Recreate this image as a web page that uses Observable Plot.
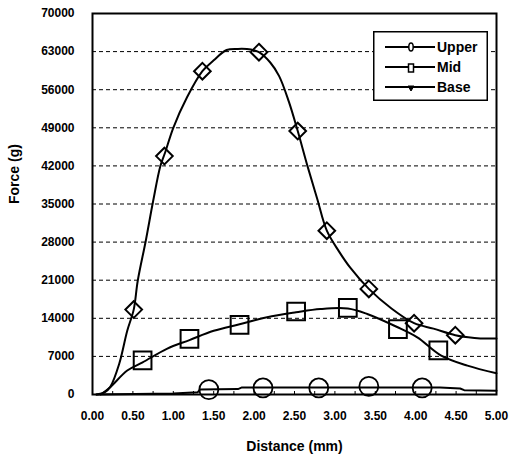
<!DOCTYPE html>
<html>
<head>
<meta charset="utf-8">
<script src="https://cdn.jsdelivr.net/npm/d3@7"></script>
<script src="https://cdn.jsdelivr.net/npm/@observablehq/plot@0.6"></script>
<style>
  html, body { margin: 0; padding: 0; background: #fff; }
  #wrap { position: relative; width: 509px; height: 462px; }
</style>
</head>
<body>
<div id="wrap"></div>
<script>
// ---- data ----
const seriesNames = ["Upper", "Mid", "Base"];

const upperLineX = [0.05, 0.15, 0.22, 0.33, 0.43, 0.51, 0.56, 0.66, 0.75, 0.84, 0.90, 1.00, 1.17, 1.36, 1.50, 1.66, 1.80, 1.96, 2.06, 2.20, 2.31, 2.43, 2.54, 2.66, 2.78, 2.90, 3.05, 3.19, 3.42, 3.70, 3.98, 4.22, 4.49, 4.65, 4.80, 5.00];
const upperLineY = [0, 400, 1400, 5600, 11700, 15600, 20900, 28300, 35500, 42000, 44500, 49000, 54600, 59400, 61400, 63300, 63500, 63400, 62900, 61000, 58500, 53800, 48400, 42000, 36000, 30100, 26300, 23300, 19400, 15800, 13100, 12100, 10900, 10500, 10300, 10300];
const upperMarkX = [0.51, 0.89, 1.36, 2.06, 2.54, 2.90, 3.42, 3.98, 4.49];
const upperMarkY = [15600, 43800, 59400, 62900, 48400, 30100, 19400, 13100, 10900];

const midLineX = [0.10, 0.22, 0.43, 0.62, 0.92, 1.20, 1.50, 1.82, 2.16, 2.52, 2.82, 3.16, 3.40, 3.77, 4.02, 4.31, 4.64, 5.00];
const midLineY = [0, 1350, 4400, 5900, 8400, 10000, 11700, 12900, 14200, 15100, 15700, 15800, 14800, 12400, 10500, 7200, 5300, 3900];
const midMarkX = [0.62, 1.20, 1.82, 2.52, 3.16, 3.78, 4.28];
const midMarkY = [6250, 10200, 12800, 15250, 15900, 12000, 8100];

const baseLineX = [0.05, 1.00, 1.30, 1.33, 1.80, 1.85, 4.30, 4.55, 4.60, 5.00];
const baseLineY = [0, 200, 400, 900, 1000, 1300, 1300, 1100, 800, 700];
const baseMarkX = [1.44, 2.11, 2.80, 3.42, 4.08];
const baseMarkY = [900, 1200, 1200, 1500, 1200];

const xTicks = [0, 0.5, 1, 1.5, 2, 2.5, 3, 3.5, 4, 4.5, 5];
const xMinorTicks = [0.25, 0.5, 0.75, 1, 1.25, 1.5, 1.75, 2, 2.25, 2.5, 2.75, 3, 3.25, 3.5, 3.75, 4, 4.25, 4.5, 4.75];
const yTicks = [0, 7000, 14000, 21000, 28000, 35000, 42000, 49000, 56000, 63000, 70000];
const yGrid = [7000, 14000, 21000, 28000, 35000, 42000, 49000, 56000, 63000];
const xTitle = "Distance (mm)";
const yTitle = "Force (g)";

// ---- build tables ----
const zip = (xs, ys) => xs.map((x, i) => ({x, y: ys[i]}));
const upperLine = zip(upperLineX, upperLineY);
const upperMarks = zip(upperMarkX, upperMarkY);
const midLine = zip(midLineX, midLineY);
const midMarks = zip(midMarkX, midMarkY);
const baseLine = zip(baseLineX, baseLineY);
const baseMarks = zip(baseMarkX, baseMarkY);

const FONT = "'Liberation Sans', Arial, Helvetica, sans-serif";

const chart = Plot.plot({
  width: 509,
  height: 462,
  marginLeft: 92,
  marginRight: 13,
  marginTop: 13,
  marginBottom: 68,
  style: {fontFamily: FONT, fontSize: "12px", fontWeight: "bold", background: "#fff", color: "#000"},
  x: {domain: [0, 5]},
  y: {domain: [0, 70000]},
  marks: [
    Plot.ruleY(yGrid, {stroke: "#000", strokeWidth: 1, strokeDasharray: "4,3"}),
    Plot.axisX({ticks: xMinorTicks, tickSize: -3, tickFormat: () => "", label: null, strokeWidth: 1}),
    Plot.axisX({ticks: xTicks, tickSize: 0, tickPadding: 17, tickFormat: d => d.toFixed(2), label: null, fontSize: 12}),
    Plot.axisY({ticks: yTicks, tickSize: 0, tickPadding: 18, tickFormat: d => String(d), label: null, fontSize: 12}),
    Plot.text([xTitle], {frameAnchor: "bottom", dy: 56, fontSize: 14, fontWeight: "bold"}),
    Plot.text([yTitle], {frameAnchor: "left", dx: -78, rotate: -90, fontSize: 14, fontWeight: "bold"}),
    Plot.line(baseLine, {x: "x", y: "y", stroke: "#000", strokeWidth: 2, curve: "linear"}),
    Plot.line(midLine, {x: "x", y: "y", stroke: "#000", strokeWidth: 2, curve: "catmull-rom"}),
    Plot.line(upperLine, {x: "x", y: "y", stroke: "#000", strokeWidth: 2, curve: "catmull-rom"}),
    Plot.dot(baseMarks, {x: "x", y: "y", symbol: "circle", r: 9.5, stroke: "#000", strokeWidth: 1.8, fill: "none"}),
    Plot.dot(midMarks, {x: "x", y: "y", symbol: "square", r: 10, stroke: "#000", strokeWidth: 2, fill: "none"}),
    Plot.dot(upperMarks, {x: "x", y: "y", symbol: "diamond2", r: 7.5, stroke: "#000", strokeWidth: 2, fill: "none"}),
    Plot.frame({stroke: "#000", strokeWidth: 2})
  ]
});
const wrap = document.getElementById("wrap");
wrap.appendChild(chart);

// ---- legend (HTML/SVG overlay) ----
const legW = 115, legH = 70;
const ns = "http://www.w3.org/2000/svg";
const leg = document.createElementNS(ns, "svg");
leg.setAttribute("width", legW);
leg.setAttribute("height", legH);
leg.style.position = "absolute";
leg.style.left = "373px";
leg.style.top = "31px";
const legendSymbols = ["ellipse", "rect", "tri"];
let inner = `<rect x="0.75" y="0.75" width="${legW - 1.5}" height="${legH - 1.5}" fill="#fff" stroke="#000" stroke-width="1.5"/>`;
seriesNames.forEach((name, i) => {
  const cy = 16 + i * 20;
  inner += `<line x1="12" x2="62" y1="${cy}" y2="${cy}" stroke="#000" stroke-width="2"/>`;
  const cx = 38;
  if (legendSymbols[i] === "ellipse") inner += `<ellipse cx="${cx}" cy="${cy}" rx="2.2" ry="4" fill="#fff" stroke="#000" stroke-width="1.5"/>`;
  else if (legendSymbols[i] === "rect") inner += `<rect x="${cx - 2.5}" y="${cy - 3}" width="5" height="8" fill="#fff" stroke="#000" stroke-width="1.5"/>`;
  else inner += `<path d="M${cx - 3},${cy - 1} L${cx + 3},${cy - 1} L${cx},${cy + 4} Z" fill="#000" stroke="#000" stroke-width="1"/>`;
  inner += `<text x="64" y="${cy}" dy="0.36em" font-family="Liberation Sans, Arial, sans-serif" font-size="14" font-weight="bold">${name}</text>`;
});
leg.innerHTML = inner;
wrap.appendChild(leg);
</script>
</body>
</html>
